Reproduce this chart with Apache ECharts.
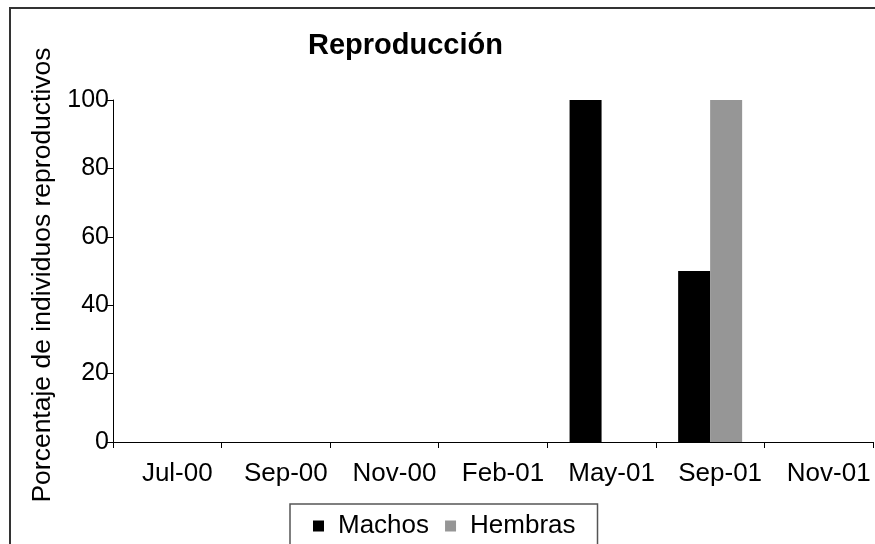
<!DOCTYPE html>
<html>
<head>
<meta charset="utf-8">
<script src="https://cdn.jsdelivr.net/npm/echarts@6/dist/echarts.min.js"></script>
<style>
  html, body { margin: 0; padding: 0; background: #fff; }
  #chart { width: 875px; height: 544px; }
</style>
</head>
<body>
<div id="chart"></div>
<script>
// Sampling months
const months = ['Jul-00', 'Sep-00', 'Nov-00', 'Feb-01', 'May-01', 'Sep-01', 'Nov-01'];
// Percentage of reproductive individuals per month
const machos = [0, 0, 0, 0, 100, 50, 0];
const hembras = [0, 0, 0, 0, 0, 100, 0];
// Y axis range and step
const yMin = 0;
const yMax = 100;
const yStep = 20;

const FONT = 'Liberation Sans, Arial, sans-serif';

const chart = echarts.init(document.getElementById('chart'), null, { renderer: 'canvas' });

chart.setOption({
  backgroundColor: '#ffffff',
  animation: false,
  textStyle: { fontFamily: FONT, color: '#000' },
  graphic: [{
    type: 'rect',
    z: -10,
    shape: { x: 10, y: 8, width: 1000, height: 1000 },
    style: { fill: 'none', stroke: '#333', lineWidth: 2 }
  }],
  title: {
    text: 'Reproducción',
    left: 308,
    top: 31,
    padding: 0,
    textStyle: { fontFamily: FONT, fontSize: 29, fontWeight: 'bold', color: '#000' }
  },
  legend: {
    data: ['Machos', 'Hembras'],
    left: 290,
    top: 504,
    padding: [9, 22, 30, 23],
    itemGap: 16,
    itemWidth: 11,
    itemHeight: 11,
    icon: 'rect',
    borderColor: '#555',
    borderWidth: 1.5,
    textStyle: { fontFamily: FONT, fontSize: 26, color: '#000', padding: [0, 0, 0, 9] }
  },
  grid: { left: 113, right: 2, top: 100, bottom: 102, containLabel: false },
  xAxis: {
    type: 'category',
    data: months,
    axisLine: { lineStyle: { color: '#000', width: 1 } },
    axisTick: { show: true, length: 6, lineStyle: { color: '#000' } },
    axisLabel: {
      fontFamily: FONT, fontSize: 26, color: '#000', margin: 19, interval: 0,
      padding: [0, 0, 0, 20]
    },
    splitLine: { show: false }
  },
  yAxis: {
    type: 'value',
    min: yMin,
    max: yMax,
    interval: yStep,
    name: 'Porcentaje de individuos reproductivos',
    nameLocation: 'middle',
    nameRotate: 90,
    nameGap: 57,
    nameTextStyle: { fontFamily: FONT, fontSize: 26.5, color: '#000', padding: [0, 8, 0, 0] },
    axisLine: { show: true, lineStyle: { color: '#000', width: 1 } },
    axisTick: { show: true, length: 6, lineStyle: { color: '#000' } },
    axisLabel: { fontFamily: FONT, fontSize: 25, color: '#000', margin: 4, padding: [7, 0, 0, 0] },
    splitLine: { show: false }
  },
  series: [
    {
      name: 'Machos',
      type: 'bar',
      data: machos,
      barWidth: 32,
      barGap: '0%',
      itemStyle: { color: '#000000' }
    },
    {
      name: 'Hembras',
      type: 'bar',
      data: hembras,
      barWidth: 32,
      barGap: '0%',
      itemStyle: { color: '#969696' }
    }
  ]
});
</script>
</body>
</html>
